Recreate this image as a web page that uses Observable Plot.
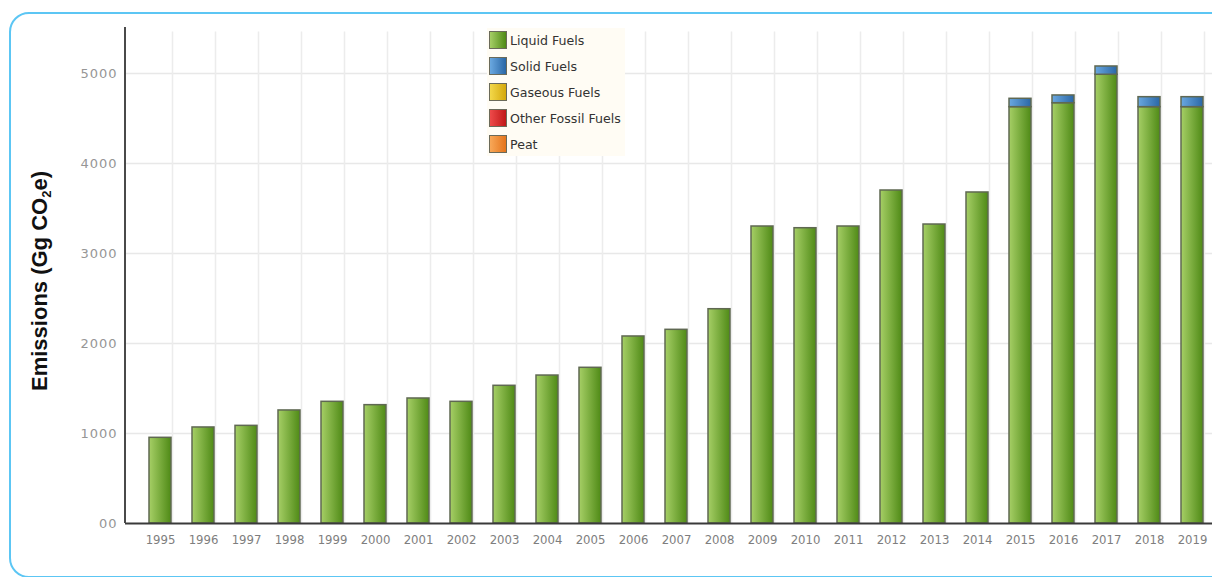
<!DOCTYPE html>
<html>
<head>
<meta charset="utf-8">
<script src="https://cdn.jsdelivr.net/npm/d3@7"></script>
<script src="https://cdn.jsdelivr.net/npm/@observablehq/plot@0.6"></script>
<style>
  html, body { margin: 0; padding: 0; background: #fff; }
  body { width: 1212px; height: 577px; overflow: hidden; position: relative; }
  #frame { position: absolute; left: 9px; top: 12px; width: 1240px; height: 566px;
           border: 2px solid #5cc6f4; border-radius: 20px; box-sizing: border-box; }
  #chart { position: absolute; left: 0; top: 0; width: 1240px; }
  #chart svg { max-width: none !important; width: 1240px; height: 577px; }
  #ytitle { position: absolute; left: 40px; top: 281px; transform: translate(-50%, -50%) rotate(-90deg);
            font-family: "Liberation Sans", Arial, sans-serif; font-weight: bold; font-size: 22px;
            color: #111; white-space: nowrap; }
  #ytitle sub { font-size: 13px; vertical-align: -4px; line-height: 0; }
  #legend { position: absolute; left: 487px; top: 28px; width: 138px; height: 128px;
            background: #fffcf4; font-family: "DejaVu Sans", sans-serif;
            font-size: 12.6px; color: #333; }
  .item { position: absolute; left: 2px; height: 18px; white-space: nowrap; display: flex; align-items: center; }
  .sw { width: 16px; height: 16px; border: 1px solid #6a6a5a; margin-right: 3px; flex: none; }
  svg [aria-label="x-axis tick label"] text { fill: #7e7e7e; }
  svg [aria-label="y-axis tick label"] text { fill: #969696; letter-spacing: 1px; }
</style>
</head>
<body>
<div id="frame"></div>
<div id="chart"></div>
<div id="ytitle">Emissions (Gg CO<sub>2</sub>e)</div>
<div id="legend"></div>
<script>
// ---- data ----
const years = [1995,1996,1997,1998,1999,2000,2001,2002,2003,2004,2005,2006,2007,2008,2009,2010,2011,2012,2013,2014,2015,2016,2017,2018,2019];
const liquidFuels = [952,1067,1085,1256,1352,1315,1389,1352,1530,1644,1730,2078,2152,2381,3300,3281,3300,3700,3322,3678,4626,4670,4986,4626,4626];
const solidFuels  = [0,0,0,0,0,0,0,0,0,0,0,0,0,0,0,0,0,0,0,0,93,86,92,111,111];
const gaseousFuels = years.map(() => 0);
const otherFossilFuels = years.map(() => 0);
const peat = years.map(() => 0);
const fuelTypes = ["Liquid Fuels","Solid Fuels","Gaseous Fuels","Other Fossil Fuels","Peat"];
const fuelGradients = [["#a6cf66","#4f8a16"],["#6aa8e0","#2a67a6"],["#f3d84a","#d4a80c"],["#ee4a4a","#c01818"],["#f8a858","#e4741c"]];
const yTicks = [0,1000,2000,3000,4000,5000];
const yTickLabels = ["00","1000","2000","3000","4000","5000"];

const series = [liquidFuels, solidFuels, gaseousFuels, otherFossilFuels, peat];
const rows = [];
years.forEach((yr, i) => {
  series.forEach((s, k) => { if (s[i] > 0) rows.push({year: yr, type: fuelTypes[k], value: s[i]}); });
});
const gradIds = fuelTypes.map((t, k) => "grad" + k);

const defsMark = () => {
  const defs = d3.create("svg:defs");
  fuelGradients.forEach((g, k) => {
    const lg = defs.append("linearGradient").attr("id", gradIds[k]).attr("x1", 0).attr("x2", 1).attr("y1", 0).attr("y2", 0);
    lg.append("stop").attr("offset", "0%").attr("stop-color", g[0]);
    lg.append("stop").attr("offset", "100%").attr("stop-color", g[1]);
  });
  return defs.node();
};

const yAxisLine = (index, scales, values, dims) => {
  const g = d3.create("svg:line")
    .attr("x1", dims.marginLeft).attr("x2", dims.marginLeft)
    .attr("y1", dims.marginTop - 1).attr("y2", dims.height - dims.marginBottom)
    .attr("stroke", "#4a4a4a").attr("stroke-width", 2);
  return g.node();
};

const chart = Plot.plot({
  width: 1240,
  height: 577,
  marginLeft: 125,
  marginRight: 12,
  marginTop: 28,
  marginBottom: 54,
  style: { background: "transparent", fontFamily: "DejaVu Sans, sans-serif", maxWidth: "none" },
  x: { type: "band", domain: years, paddingInner: 0.48, paddingOuter: 0.54, label: null },
  y: { domain: [0, 5500], label: null },
  color: { domain: fuelTypes, range: gradIds.map(id => `url(#${id})`) },
  marks: [
    defsMark,
    Plot.ruleY(yTicks.filter(d => d > 0), { stroke: "#e8e8e8", strokeWidth: 1.5 }),
    Plot.ruleX(years, { x: d => d, dx: 12, y1: 0, y2: 5460, stroke: "#ececec", strokeWidth: 1.5 }),
    Plot.barY(rows, { x: "year", y: "value", fill: "type", order: fuelTypes, stroke: "#5f6852", strokeWidth: 1.5 }),
    Plot.ruleY([0], { stroke: "#3a3a3a", strokeWidth: 2 }),
    yAxisLine,
    Plot.axisX({ tickSize: 0, tickPadding: 11, fontSize: 13, fontFamily: "DejaVu Sans Condensed, DejaVu Sans, sans-serif",
                 tickFormat: d => String(d), label: null }),
    Plot.axisY({ ticks: yTicks, tickSize: 0, tickPadding: 8, fontSize: 13,
                 tickFormat: d => yTickLabels[yTicks.indexOf(d)], label: null })
  ]
});
document.getElementById("chart").appendChild(chart);

// legend
const legend = document.getElementById("legend");
fuelTypes.forEach((t, k) => {
  const it = document.createElement("div");
  it.className = "item";
  it.style.top = (3 + k * 26) + "px";
  const sw = document.createElement("span");
  sw.className = "sw";
  sw.style.background = `linear-gradient(to right, ${fuelGradients[k][0]}, ${fuelGradients[k][1]})`;
  const lb = document.createElement("span");
  lb.textContent = t;
  it.appendChild(sw); it.appendChild(lb);
  legend.appendChild(it);
});
</script>
</body>
</html>
